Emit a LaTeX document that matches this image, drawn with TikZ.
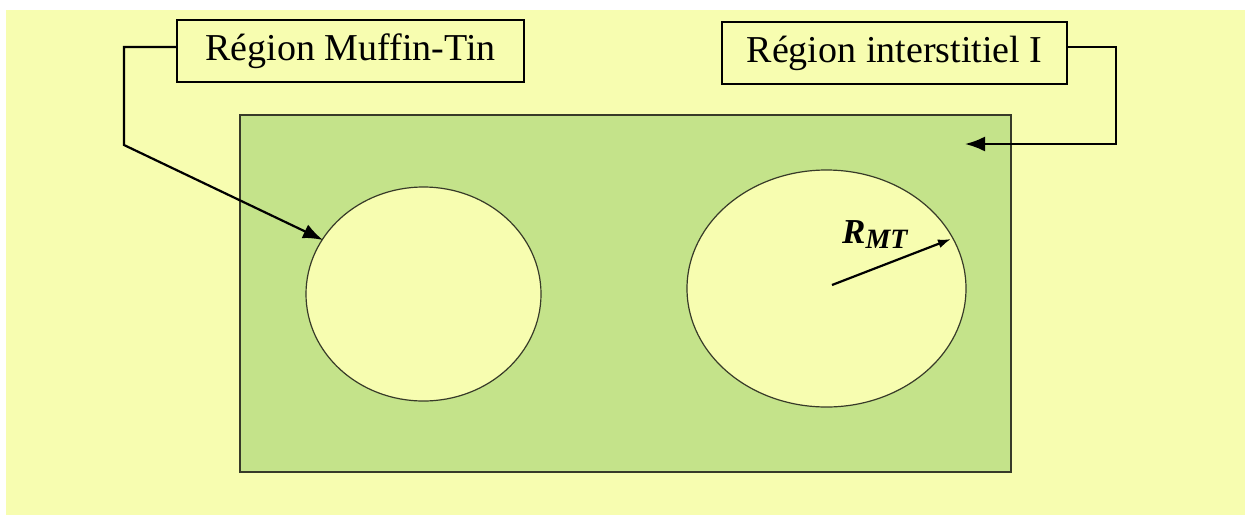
\documentclass[tikz,border=0pt]{standalone}
\usepackage{fontspec}
\setmainfont{Liberation Serif}
\usetikzlibrary{arrows.meta}
\definecolor{paleyellow}{RGB}{247,253,176}
\definecolor{cellgreen}{RGB}{196,227,138}
\definecolor{edgegray}{RGB}{55,58,40}
\tikzset{
  labelbox/.style={draw=black, line width=2.4pt, fill=paleyellow, inner sep=0pt,
    minimum height=62pt, font=\fontsize{38}{42}\selectfont},
  link/.style={line width=2.2pt, -{Latex[length=20pt,width=15pt]}},
  sphere/.style={draw=edgegray, line width=1.2pt, fill=paleyellow},
}
\begin{document}
\begin{tikzpicture}[x=1pt, y=-1pt]
  % page and yellow backdrop
  \useasboundingbox (0,0) rectangle (1245,515);
  \fill[white] (0,0) rectangle (1245,515);
  \fill[paleyellow] (6,10) rectangle (1245,515);
  % interstitial region
  \draw[draw=edgegray, line width=2.4pt, fill=cellgreen] (240,115) rectangle (1011,472);
  % muffin-tin spheres
  \draw[sphere] (423.5,294) ellipse [x radius=117.5, y radius=107];
  \draw[sphere] (826.5,288.5) ellipse [x radius=139.5, y radius=118.5];
  % labels
  \node[labelbox, minimum width=347pt] (mt) at (350.5,51) {Région Muffin-Tin};
  \node[labelbox, minimum width=345pt] (ir) at (894.5,53) {Région interstitiel I};
  % connectors
  \coordinate (mtTip) at (323,240);
  \coordinate (irTip) at (965,144);
  \draw[link] (mt.west |- 0,47) -- (124,47) -- (124,145) -- (mtTip);
  \draw[link] (ir.east |- 0,47) -- (1116,47) -- (1116,144) -- (irTip);
  % radius
  \coordinate (ctr) at (832,285);
  \coordinate (rim) at (951,239);
  \draw[line width=2.2pt, -{Latex[length=13pt,width=9pt]}] (ctr) -- (rim);
  \node[anchor=base west, inner sep=0pt, font=\fontsize{35}{40}\selectfont\bfseries\itshape] (rmt) at (842,243)
    {R\raisebox{-5pt}{\fontsize{28}{30}\selectfont MT}};
\end{tikzpicture}
\end{document}
